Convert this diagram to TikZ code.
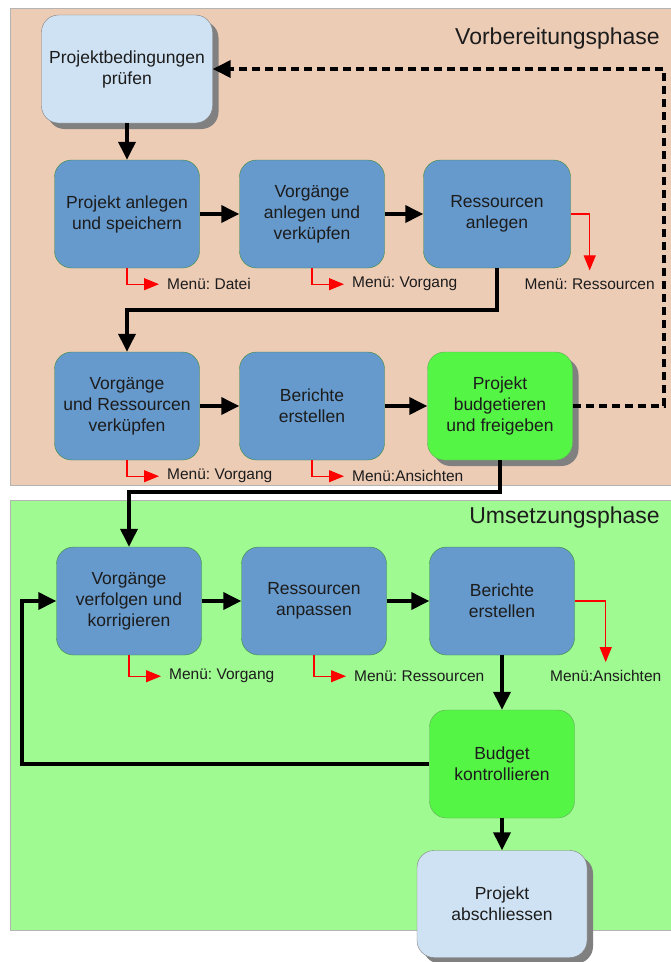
\documentclass[tikz,border=0pt]{standalone}
\usepackage{fontspec}
\setmainfont{Liberation Sans}
\usetikzlibrary{arrows.meta,shadows,calc}
\frenchspacing

\definecolor{phaseone}{RGB}{237,204,182}
\definecolor{phasetwo}{RGB}{159,251,145}
\definecolor{panelline}{RGB}{180,180,180}
\definecolor{boxblue}{RGB}{102,153,204}
\definecolor{boxline}{RGB}{60,140,60}
\definecolor{boxgreen}{RGB}{85,245,70}
\definecolor{greenline}{RGB}{100,170,90}
\definecolor{lightblue}{RGB}{207,226,243}
\definecolor{shadowgray}{RGB}{128,128,128}
\definecolor{textdark}{RGB}{28,28,28}

\begin{document}
\begin{tikzpicture}[x=1pt,y=1pt]
	\tikzstyle{every node}+=[inner sep=0pt, text=textdark]
	\tikzstyle{box}=[draw=boxline, fill=boxblue, rounded corners=17pt, minimum width=145pt, minimum height=108pt, align=center, font=\fontsize{17.5}{21}\selectfont]
	\tikzstyle{shadowbox}=[drop shadow={shadow xshift=6pt, shadow yshift=-6pt, fill=shadowgray, opacity=1}]
	\tikzstyle{greenbox}=[box, draw=greenline, fill=boxgreen]
	\tikzstyle{startbox}=[box, draw=shadowgray, fill=lightblue, minimum width=171pt, shadowbox]
	\tikzstyle{title}=[font=\fontsize{23}{26}\selectfont, anchor=base east]
	\tikzstyle{menutext}=[inner xsep=8pt, inner ysep=8pt, anchor=west, font=\fontsize{15.5}{18}\selectfont]
	\tikzstyle{flow}=[line width=3.5pt, -{Triangle[length=18pt,width=17pt]}]
	\tikzstyle{back}=[flow, dash pattern=on 8pt off 5pt]
	\tikzstyle{menu}=[red, line width=1.2pt, -{Triangle[length=15pt,width=12pt]}]

	\useasboundingbox (0,0) rectangle (671,-962);
	\clip (0,0) rectangle (671,-962);

	% phases
	\draw [panelline, fill=phaseone] (10,-8) rectangle (690,-485);
	\draw [panelline, fill=phasetwo] (10,-500) rectangle (690,-930);
	\node [title] (vorb) at (660,-44) {Vorbereitungsphase};
	\node [title] (umsetz) at (660,-523) {Umsetzungsphase};

	% Vorbereitung
	\node [startbox] (pruefen) at (127,-69) {Projektbedingungen\\prüfen};
	\node [box] (anlegen) at (127,-214) {Projekt anlegen\\und speichern};
	\node [box] (vorganlegen) at (312,-214) {Vorgänge\\anlegen und\\verküpfen};
	\node [box, minimum width=147pt] (ressanlegen) at (497,-214) {Ressourcen\\anlegen};
	\node [box] (verknuepfen) at (127,-406) {Vorgänge\\und Ressourcen\\verküpfen};
	\node [box] (berichte) at (312,-406) {Berichte\\erstellen};
	\node [greenbox, shadowbox] (budgetieren) at (500,-406) {Projekt\\budgetieren\\und freigeben};

	% Umsetzung
	\node [box] (verfolgen) at (129,-601) {Vorgänge\\verfolgen und\\korrigieren};
	\node [box] (anpassen) at (314,-601) {Ressourcen\\anpassen};
	\node [box] (berichteB) at (502,-601) {Berichte\\erstellen};
	\node [greenbox] (kontrolle) at (502,-764) {Budget\\kontrollieren};
	\node [startbox, minimum width=170pt, minimum height=107pt] (abschluss) at (502,-904) {Projekt\\abschliessen};

	\coordinate (rueck) at (664,-69);
	\coordinate (schleife) at (22,-601);

	\draw [flow] (pruefen.south) -- (anlegen.north);
	\draw [flow] (anlegen) -- (vorganlegen);
	\draw [flow] (vorganlegen) -- (ressanlegen);
	\draw [flow] (ressanlegen.south) -- ++(0,-42) -| (verknuepfen.north);
	\draw [flow] (verknuepfen) -- (berichte);
	\draw [flow] (berichte) -- (budgetieren);
	\draw [back] (budgetieren.east) -| (rueck) -- (pruefen.east);
	\draw [flow] (budgetieren.south) -- ++(0,-32) -| (verfolgen.north);
	\draw [flow] (verfolgen) -- (anpassen);
	\draw [flow] (anpassen) -- (berichteB);
	\draw [flow] (berichteB) -- (kontrolle);
	\draw [flow] (kontrolle.west) -| (schleife) -- (verfolgen.west);
	\draw [flow] (kontrolle) -- (abschluss);

	% Menues
	\node [menutext] (mDatei) at ($(anlegen.south)+(32,-16)$) {Menü: Datei};
	\draw [menu] (anlegen.south) |- (mDatei.west);
	\node [menutext] (mVorgangA) at ($(vorganlegen.south)+(32,-16)$) {Menü: Vorgang};
	\draw [menu] (vorganlegen.south) |- (mVorgangA.west);
	\node [menutext, anchor=center] (mRessA) at ($(ressanlegen.east)+(19,-70)$) {Menü: Ressourcen};
	\draw [menu] (ressanlegen.east) -| (mRessA.north);
	\node [menutext] (mVorgangB) at ($(verknuepfen.south)+(32,-16)$) {Menü: Vorgang};
	\draw [menu] (verknuepfen.south) |- (mVorgangB.west);
	\node [menutext] (mAnsichtenA) at ($(berichte.south)+(32,-16)$) {Menü:Ansichten};
	\draw [menu] (berichte.south) |- (mAnsichtenA.west);
	\node [menutext] (mVorgangC) at ($(verfolgen.south)+(32,-21)$) {Menü: Vorgang};
	\draw [menu] (verfolgen.south) |- (mVorgangC.west);
	\node [menutext] (mRessB) at ($(anpassen.south)+(32,-21)$) {Menü: Ressourcen};
	\draw [menu] (anpassen.south) |- (mRessB.west);
	\node [menutext, anchor=center] (mAnsichtenB) at ($(berichteB.east)+(31,-75)$) {Menü:Ansichten};
	\draw [menu] (berichteB.east) -| (mAnsichtenB.north);
\end{tikzpicture}
\end{document}
